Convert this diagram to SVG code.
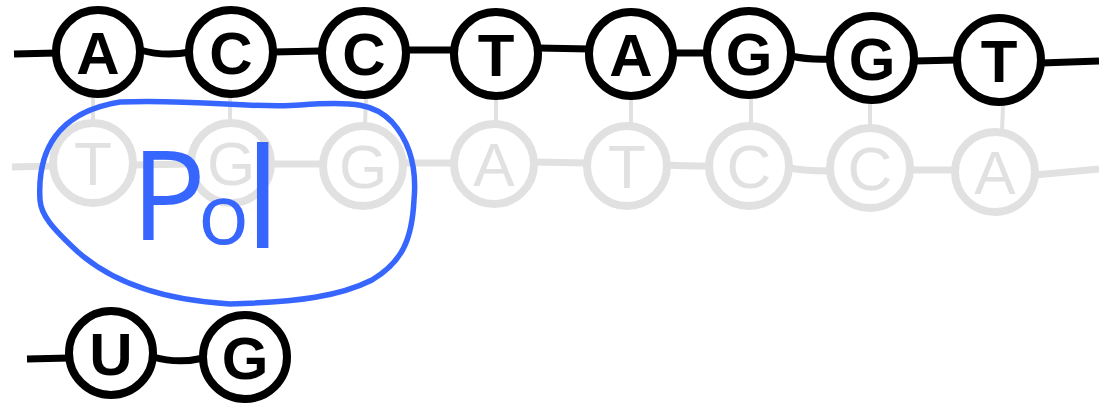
<svg xmlns="http://www.w3.org/2000/svg" width="1099" height="406" viewBox="0 0 1099 406">
<style>
.top circle{fill:#fff;stroke:#000;stroke-width:8}
.top text{font-family:"Liberation Sans",Arial,sans-serif;font-weight:bold;font-size:60px;text-anchor:middle;fill:#000}
.gray circle{fill:#fff;stroke:#e1e1e1;stroke-width:8}
.gray text{font-family:"Liberation Sans",Arial,sans-serif;font-size:62px;text-anchor:middle;fill:#e1e1e1}
.bk{fill:none;stroke:#000;stroke-width:7;stroke-linecap:butt}
.gr{fill:none;stroke:#e1e1e1;stroke-width:7}
.vr{fill:none;stroke:#e1e1e1;stroke-width:4}
.pol{fill:none;stroke:#3766ff;stroke-width:5.5;stroke-linejoin:round}
.poltxt{font-family:"Open Sans","Liberation Sans",sans-serif;font-weight:normal;fill:#3766ff}
</style>
<g id="connectors">
  <path class="gr" d="M12,167 L53,166"/>
  <path class="gr" d="M133,165 L192,164"/>
  <path class="gr" d="M271,164 L323,164"/>
  <path class="gr" d="M403,163 L454,163"/>
  <path class="gr" d="M534,162 L587,163"/>
  <path class="gr" d="M667,165 Q685,166 709,166"/>
  <path class="gr" d="M789,168 Q805,171 830,171"/>
  <path class="gr" d="M910,170 L955,170"/>
  <path class="gr" d="M1035,175 L1099,169"/>
  <path class="vr" d="M93,97 L93,123"/>
  <path class="vr" d="M230,97 L230,123"/>
  <path class="vr" d="M366,98 L365,126"/>
  <path class="vr" d="M496,99 L496,124"/>
  <path class="vr" d="M631,99 L631,124"/>
  <path class="vr" d="M751,98 L751,126"/>
  <path class="vr" d="M870,103 L870,128"/>
  <path class="vr" d="M1003,105 L1002,132"/>
  <path class="bk" d="M14,54 L57,53"/>
  <path class="bk" d="M140,50 Q165,57 190,52"/>
  <path class="bk" d="M273,52 L320,51"/>
  <path class="bk" d="M406,50 L455,50"/>
  <path class="bk" d="M538,48 L590,49"/>
  <path class="bk" d="M673,53 L708,53"/>
  <path class="bk" d="M791,56 Q808,60 831,59"/>
  <path class="bk" d="M914,61 L958,60"/>
  <path class="bk" d="M1041,63 L1099,61"/>
  <path class="bk" d="M27,359 L70,358"/>
  <path class="bk" d="M153,357 Q178,364 204,358"/>
</g>
<g id="template-T" class="gray"><circle cx="93" cy="163" r="40"/><text x="93" y="185">T</text></g>
<g id="template-G1" class="gray"><circle cx="231" cy="163" r="40"/><text x="231" y="185">G</text></g>
<g id="template-G2" class="gray"><circle cx="363" cy="166" r="40"/><text x="363" y="188">G</text></g>
<g id="template-A1" class="gray"><circle cx="494" cy="164" r="40"/><text x="494" y="186">A</text></g>
<g id="template-T2" class="gray"><circle cx="627" cy="166" r="40"/><text x="627" y="188">T</text></g>
<g id="template-C1" class="gray"><circle cx="749" cy="166" r="40"/><text x="749" y="188">C</text></g>
<g id="template-C2" class="gray"><circle cx="870" cy="168" r="40"/><text x="870" y="190">C</text></g>
<g id="template-A2" class="gray"><circle cx="995" cy="172" r="40"/><text x="995" y="194">A</text></g>
<g id="top-A1" class="top"><circle cx="98" cy="52" r="42"/><text x="98" y="74">A</text></g>
<g id="top-C1" class="top"><circle cx="231" cy="52" r="42"/><text x="231" y="74">C</text></g>
<g id="top-C2" class="top"><circle cx="364" cy="53" r="42"/><text x="364" y="75">C</text></g>
<g id="top-T1" class="top"><circle cx="496" cy="54" r="42"/><text x="496" y="76">T</text></g>
<g id="top-A2" class="top"><circle cx="631" cy="54" r="42"/><text x="631" y="76">A</text></g>
<g id="top-G1" class="top"><circle cx="749" cy="53" r="42"/><text x="749" y="75">G</text></g>
<g id="top-G2" class="top"><circle cx="872" cy="58" r="42"/><text x="872" y="80">G</text></g>
<g id="top-T2" class="top"><circle cx="999" cy="60" r="42"/><text x="999" y="82">T</text></g>
<g id="rna-U" class="top"><circle cx="111" cy="353" r="42"/><text x="111" y="375">U</text></g>
<g id="rna-G" class="top"><circle cx="245" cy="357" r="42"/><text x="245" y="379">G</text></g>
<g id="polymerase">
  <path class="pol" d="M40,200 C37,150 58,112 120,102 C200,99 255,109 300,105 C355,101 375,104 392,122 C410,142 417,168 414,200 C412,240 402,262 372,280 C340,296 300,302 230,304 C160,300 112,282 78,252 C52,228 41,215 40,200 Z"/>
  <text class="poltxt"><tspan x="131" y="240" font-size="125">P</tspan><tspan x="198" y="244" font-size="85">o</tspan><tspan x="245" y="248" font-size="140">l</tspan></text>
</g>
</svg>
